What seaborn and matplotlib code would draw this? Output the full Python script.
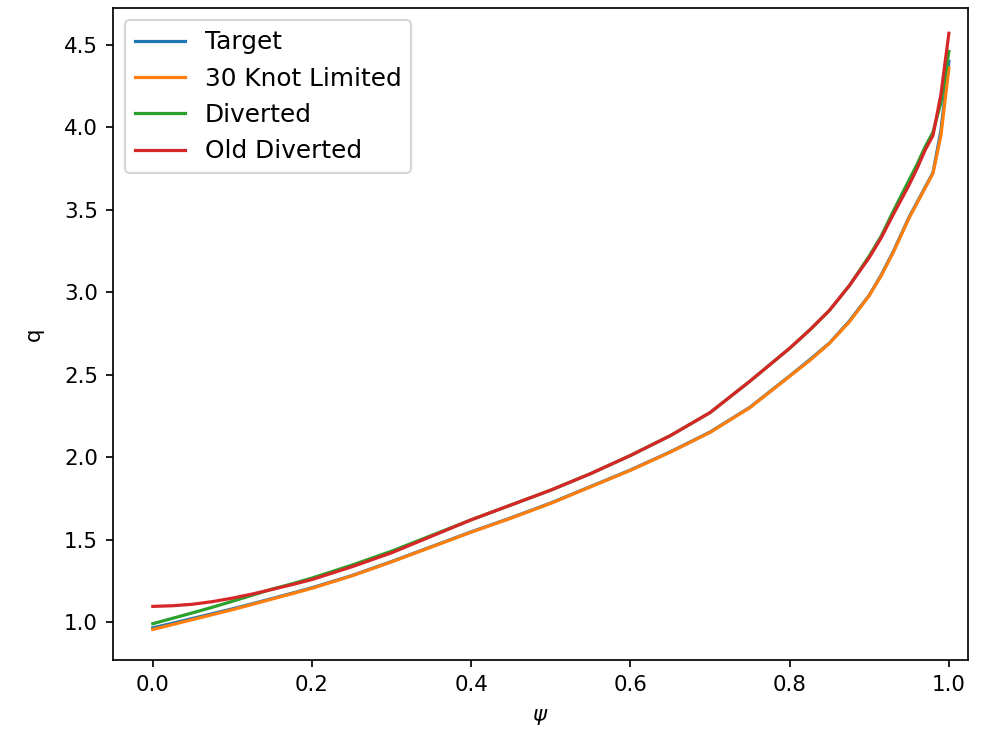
import pandas as pd
import numpy as np
import seaborn as sns
import matplotlib.pyplot as plt

psi = [0.0, 0.025, 0.05, 0.075, 0.1, 0.125, 0.15, 0.175, 0.2, 0.25, 0.3, 0.35,
       0.4, 0.45, 0.5, 0.55, 0.6, 0.65, 0.7, 0.75, 0.8, 0.825, 0.85, 0.875,
       0.9, 0.915, 0.93, 0.95, 0.96, 0.97, 0.98, 0.99, 1.0]

q_target = [0.965, 0.993, 1.022, 1.051, 1.080, 1.111, 1.143, 1.175, 1.208, 1.282,
            1.367, 1.457, 1.547, 1.632, 1.722, 1.822, 1.922, 2.032, 2.152, 2.302,
            2.492, 2.59, 2.692, 2.825, 2.982, 3.105, 3.245, 3.455, 3.545, 3.635,
            3.725, 3.98, 4.40]
q_30knot = [0.955, 0.985, 1.015, 1.045, 1.075, 1.107, 1.14, 1.172, 1.205, 1.28,
            1.365, 1.455, 1.545, 1.63, 1.72, 1.82, 1.92, 2.03, 2.15, 2.30,
            2.49, 2.585, 2.69, 2.82, 2.98, 3.10, 3.24, 3.45, 3.54, 3.63,
            3.72, 3.95, 4.36]
q_diverted = [0.99, 1.023, 1.056, 1.09, 1.126, 1.163, 1.2, 1.232, 1.267, 1.345,
              1.43, 1.525, 1.62, 1.71, 1.80, 1.90, 2.01, 2.13, 2.27, 2.46,
              2.66, 2.77, 2.89, 3.04, 3.22, 3.34, 3.49, 3.68, 3.775, 3.88,
              3.97, 4.15, 4.46]
q_old = [1.095, 1.099, 1.108, 1.124, 1.145, 1.17, 1.198, 1.227, 1.258, 1.335,
         1.42, 1.52, 1.62, 1.71, 1.80, 1.90, 2.01, 2.13, 2.27, 2.46,
         2.66, 2.77, 2.89, 3.04, 3.21, 3.33, 3.47, 3.65, 3.75, 3.86,
         3.95, 4.20, 4.57]

names = ['Target', '30 Knot Limited', 'Diverted', 'Old Diverted']

df = pd.concat([
    pd.DataFrame({'psi': psi, 'q': vals, 'Profile': name})
    for name, vals in zip(names, [q_target, q_30knot, q_diverted, q_old])
])

fig = plt.figure(figsize=(6.4, 733 / 153.75), dpi=153.75)
ax = fig.add_axes([113 / 984, 73 / 733, (968 - 113) / 984, (660 - 8) / 733])
sns.lineplot(data=df, x='psi', y='q', hue='Profile', hue_order=names,
             palette=sns.color_palette('tab10', 4), errorbar=None, ax=ax)
ax.set_xlim(-0.05, 1.024)
ax.set_ylim(0.77, 4.723)
ax.set_xlabel(r'$\psi$', labelpad=5.5)
ax.set_ylabel('q', labelpad=9.5)
handles, labels = ax.get_legend_handles_labels()
ax.legend(handles, labels, loc='upper left', fontsize=11.6)
fig.savefig('out.png', dpi=153.75)
